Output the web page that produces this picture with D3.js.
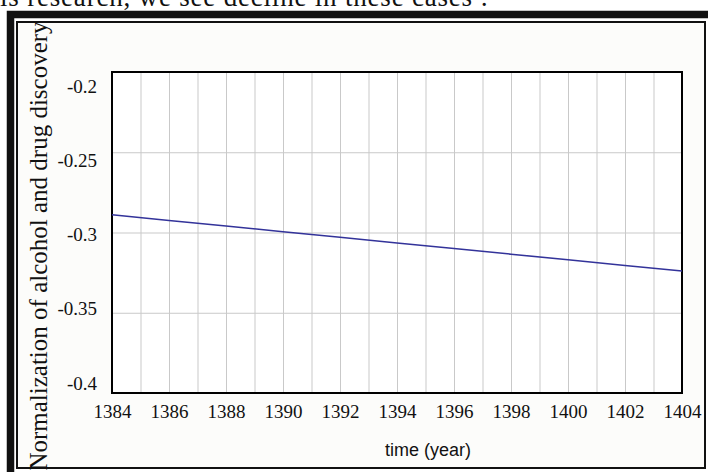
<!DOCTYPE html>
<html>
<head>
<meta charset="utf-8">
<script src="https://cdn.jsdelivr.net/npm/d3@7"></script>
<style>
  body { margin: 0; background: #fff; }
  svg { display: block; }
  .tick text { font-family: "Liberation Serif", "Times New Roman", serif; font-size: 19px; fill: #111; }
  .grid line { stroke: #c9c9c9; stroke-width: 1; }
  .grid path, .lab path { display: none; }
</style>
</head>
<body>
<div id="chart"></div>
<script>
// data
var years = [1384, 1386, 1388, 1390, 1392, 1394, 1396, 1398, 1400, 1402, 1404];
var values = [-0.289, -0.2925, -0.296, -0.2995, -0.303, -0.3065, -0.310, -0.3135, -0.317, -0.3205, -0.324];
var xTicks = [1384, 1386, 1388, 1390, 1392, 1394, 1396, 1398, 1400, 1402, 1404];
var yTicks = [-0.2, -0.25, -0.3, -0.35, -0.4];

var W = 708, H = 472;
var pLeft = 112, pRight = 682, pTop = 72, pBottom = 393;

var svg = d3.select('#chart')
    .append('svg')
    .attr('width', W)
    .attr('height', H);

// cut off sentence of the page above the figure
svg.append('text')
    .attr('x', 0)
    .attr('y', 6)
    .attr('textLength', 488)
    .attr('lengthAdjust', 'spacing')
    .style('font-family', '"Liberation Serif", serif')
    .style('font-size', '27px')
    .style('fill', '#111')
    .text('is research, we see decline in these cases :');

// double frame
svg.append('rect')
    .attr('x', 10.5).attr('y', 14.5)
    .attr('width', 710).attr('height', 470)
    .attr('fill', '#fff')
    .attr('stroke', '#111')
    .attr('stroke-width', 7.5);
svg.append('rect')
    .attr('x', 17).attr('y', 22)
    .attr('width', 688).attr('height', 446)
    .attr('fill', '#fcfcfa')
    .attr('stroke', '#111')
    .attr('stroke-width', 2);

var x = d3.scaleLinear().domain([1384, 1404]).range([pLeft, pRight]);
var y = d3.scaleLinear().domain([-0.4, -0.2]).range([pBottom, pTop]);
// tick labels sit a bit off the grid lines in the original
var yLab = d3.scaleLinear().domain([-0.4, -0.2]).range([383, 86]);

svg.append('rect')
    .attr('x', pLeft).attr('y', pTop)
    .attr('width', pRight - pLeft).attr('height', pBottom - pTop)
    .attr('fill', '#fff');

// grid
svg.append('g')
    .attr('class', 'grid')
    .attr('transform', 'translate(0,' + pBottom + ')')
    .call(d3.axisBottom(x).ticks(20).tickSize(-(pBottom - pTop)).tickFormat(''));
svg.append('g')
    .attr('class', 'grid')
    .attr('transform', 'translate(' + pLeft + ',0)')
    .call(d3.axisLeft(y).tickValues(yTicks).tickSize(-(pRight - pLeft)).tickFormat(''));

// axis labels
svg.append('g')
    .attr('class', 'lab')
    .attr('transform', 'translate(0,' + pBottom + ')')
    .call(d3.axisBottom(x).tickValues(xTicks).tickSize(0).tickPadding(12).tickFormat(d3.format('d')));
svg.append('g')
    .attr('class', 'lab')
    .attr('transform', 'translate(97,0)')
    .call(d3.axisLeft(yLab).tickValues(yTicks).tickSize(0).tickPadding(0).tickFormat(function(d) { return String(d); }));

// plot border
svg.append('rect')
    .attr('x', pLeft).attr('y', pTop)
    .attr('width', pRight - pLeft).attr('height', pBottom - pTop)
    .attr('fill', 'none')
    .attr('stroke', '#000')
    .attr('stroke-width', 2);

var line = d3.line()
    .x(function(d, i) { return x(years[i]); })
    .y(function(d) { return y(d); });

svg.append('path')
    .datum(values)
    .attr('d', line)
    .attr('fill', 'none')
    .attr('stroke', '#33339a')
    .attr('stroke-width', 1.5);

// titles
svg.append('text')
    .attr('transform', 'translate(47,246) rotate(-90)')
    .attr('text-anchor', 'middle')
    .style('font-family', '"Liberation Serif", serif')
    .style('font-size', '25px')
    .style('fill', '#111')
    .text('Normalization of alcohol and drug discovery');

svg.append('text')
    .attr('x', 428)
    .attr('y', 456)
    .attr('text-anchor', 'middle')
    .style('font-family', '"Liberation Sans", Arial, sans-serif')
    .style('font-size', '18px')
    .style('fill', '#111')
    .text('time (year)');
</script>
</body>
</html>
